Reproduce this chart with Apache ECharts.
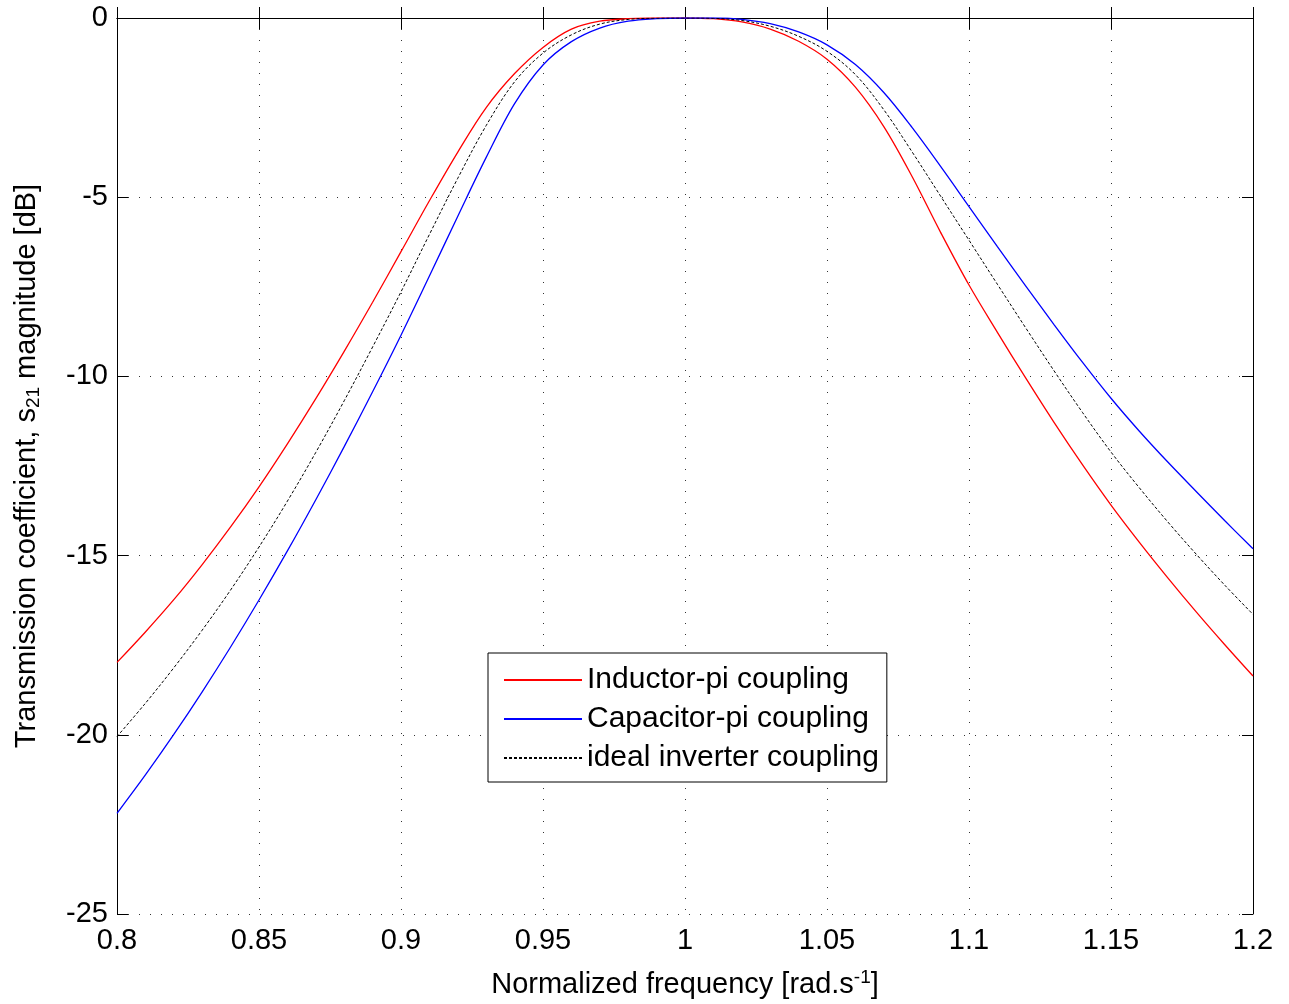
<!DOCTYPE html>
<html>
<head>
<meta charset="utf-8">
<script src="https://cdn.jsdelivr.net/npm/echarts@6/dist/echarts.min.js"></script>
<style>
html,body{margin:0;padding:0;background:#fff;}
#chart{width:1289px;height:1004px;}
</style>
</head>
<body>
<div id="chart"></div>
<script>
// Normalized frequency samples
var freqs = [0.80,0.81,0.82,0.83,0.84,0.85,0.86,0.87,0.88,0.89,0.90,0.91,0.92,0.93,0.94,0.95,0.96,0.97,0.98,0.99,1.00,
             1.01,1.02,1.03,1.04,1.05,1.06,1.07,1.08,1.09,1.10,1.11,1.12,1.13,1.14,1.15,1.16,1.17,1.18,1.19,1.20];
// Inductor-pi coupling (dB)
var inductorPi = [-17.98,-17.13,-16.23,-15.25,-14.2,-13.08,-11.88,-10.62,-9.3,-7.93,-6.52,-5.1,-3.74,-2.5,-1.55,-0.82,-0.31,-0.09,-0.02,0,0,
                  -0.02,-0.11,-0.31,-0.65,-1.15,-1.93,-3.03,-4.43,-5.98,-7.45,-8.77,-10.05,-11.29,-12.47,-13.59,-14.63,-15.62,-16.57,-17.48,-18.36];
// Capacitor-pi coupling (dB)
var capacitorPi = [-22.19,-21.12,-19.99,-18.8,-17.55,-16.24,-14.87,-13.44,-11.96,-10.43,-8.85,-7.2,-5.53,-3.89,-2.39,-1.31,-0.66,-0.28,-0.09,-0.02,0,
                   0,-0.04,-0.16,-0.39,-0.75,-1.3,-2.08,-3.06,-4.14,-5.26,-6.38,-7.48,-8.56,-9.61,-10.61,-11.53,-12.39,-13.21,-14.02,-14.81];
// ideal inverter coupling (dB)
var idealInverter = [-20.05,-19.12,-18.13,-17.08,-15.96,-14.76,-13.48,-12.12,-10.68,-9.18,-7.64,-6.04,-4.47,-3.0,-1.78,-0.98,-0.47,-0.17,-0.04,-0.005,0,
                     -0.01,-0.07,-0.23,-0.51,-0.93,-1.58,-2.56,-3.74,-4.97,-6.2,-7.43,-8.65,-9.85,-11.01,-12.11,-13.11,-14.06,-14.96,-15.82,-16.64];
var seriesNames = ['Inductor-pi coupling','Capacitor-pi coupling','ideal inverter coupling'];
var xMin = 0.8, xMax = 1.2, xStep = 0.05;
var yMin = -25, yMax = 0, yStep = 5;

function pairs(vals){ return freqs.map(function(f,i){ return [f, vals[i]]; }); }

var FONT = 'Liberation Sans, Arial, Helvetica, sans-serif';
var chart = echarts.init(document.getElementById('chart'));
var gridLine = {show:true, lineStyle:{color:'#333', width:1, type:[1,10]}};
var axisLine = {show:true, lineStyle:{color:'#000', width:1}};
var option = {
  backgroundColor:'#fff',
  animation:false,
  textStyle:{fontFamily:FONT},
  grid:{left:117, top:18, width:1136, height:896, containLabel:false, outerBoundsMode:'none'},
  legend:{
    orient:'vertical', left:488, top:653,
    itemWidth:78, itemHeight:14, itemGap:9,
    padding:[12,8,9,15],
    borderColor:'#000', borderWidth:1, backgroundColor:'#fff',
    itemStyle:{opacity:0},
    textStyle:{fontSize:30, color:'#000', fontFamily:FONT, lineHeight:30},
    data:seriesNames
  },
  xAxis:[{
    type:'value', min:xMin, max:xMax, interval:xStep, position:'bottom',
    axisLine:axisLine, axisTick:{show:true, inside:true, length:11, lineStyle:{color:'#000'}},
    splitLine:gridLine,
    axisLabel:{fontSize:29, color:'#000', margin:12, showMinLabel:true, showMaxLabel:true,
      formatter:function(v){ return String(+v.toFixed(2)); }},
    name:'Normalized frequency [rad.s{sup|-1}]', nameLocation:'middle', nameGap:54,
    nameTextStyle:{fontSize:29, color:'#000', fontFamily:FONT,
      rich:{sup:{fontSize:19, verticalAlign:'top', padding:[0,0,14,0], color:'#000', fontFamily:FONT}}}
  },{
    type:'value', min:xMin, max:xMax, interval:xStep, position:'top',
    axisLine:axisLine, axisTick:{show:true, inside:true, length:11, lineStyle:{color:'#000'}},
    splitLine:{show:false}, axisLabel:{show:false}
  }],
  yAxis:[{
    type:'value', min:yMin, max:yMax, interval:yStep, position:'left',
    axisLine:axisLine, axisTick:{show:true, inside:true, length:11, lineStyle:{color:'#000'}},
    splitLine:gridLine,
    axisLabel:{fontSize:29, color:'#000', margin:9, showMinLabel:true, showMaxLabel:true},
    name:'Transmission coefficient, s{sub|21} magnitude [dB]', nameLocation:'middle', nameGap:74,
    nameTextStyle:{fontSize:29, color:'#000', fontFamily:FONT,
      rich:{sub:{fontSize:19, padding:[14,0,0,0], color:'#000', fontFamily:FONT}}}
  },{
    type:'value', min:yMin, max:yMax, interval:yStep, position:'right',
    axisLine:axisLine, axisTick:{show:true, inside:true, length:11, lineStyle:{color:'#000'}},
    splitLine:{show:false}, axisLabel:{show:false}
  }],
  series:[
    {name:seriesNames[0], type:'line', data:pairs(inductorPi), symbol:'none', smooth:0.35,
     lineStyle:{color:'#ff0000', width:1.3}, itemStyle:{color:'#ff0000'}},
    {name:seriesNames[1], type:'line', data:pairs(capacitorPi), symbol:'none', smooth:0.35,
     lineStyle:{color:'#0000ff', width:1.3}, itemStyle:{color:'#0000ff'}},
    {name:seriesNames[2], type:'line', data:pairs(idealInverter), symbol:'none', smooth:0.35,
     lineStyle:{color:'#000', width:1, type:[3,2]}, itemStyle:{color:'#000'}}
  ]
};
chart.setOption(option);
</script>
</body>
</html>
